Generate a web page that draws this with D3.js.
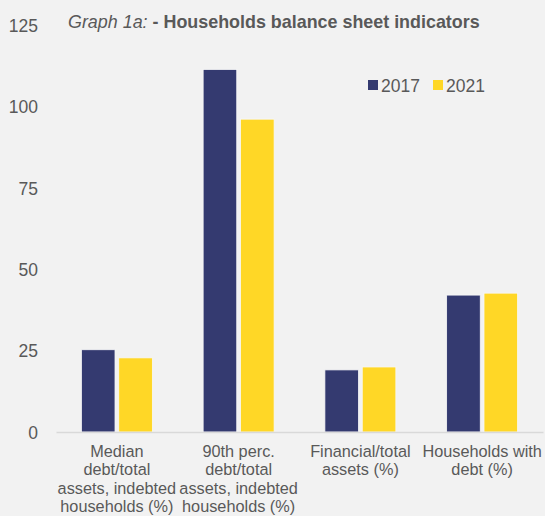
<!DOCTYPE html>
<html>
<head>
<meta charset="utf-8">
<script src="https://cdn.jsdelivr.net/npm/d3@7"></script>
<style>
  html, body { margin: 0; padding: 0; background: #f2f2f2; }
  svg { display: block; }
</style>
</head>
<body>
<svg id="chart" width="545" height="516"></svg>
<script>
// Household balance sheet indicators, 2017 vs 2021
const categories = [
  ["Median", "debt/total", "assets, indebted", "households (%)"],
  ["90th perc.", "debt/total", "assets, indebted", "households (%)"],
  ["Financial/total", "assets (%)"],
  ["Households with", "debt (%)"]
];
const seriesNames = ["2017", "2021"];
const values2017 = [25.3, 111.5, 19.1, 42.1];
const values2021 = [22.8, 96.2, 20.0, 42.7];
const yTicks = [0, 25, 50, 75, 100, 125];
const colors = ["#343a70", "#ffd726"];

const svg = d3.select("#chart");
const textColor = "#595959";
const font = "Arial, 'Liberation Sans', sans-serif";

const y = d3.scaleLinear().domain([0, 125]).range([432, 25.5]);
const x0 = d3.scaleBand()
  .domain(d3.range(categories.length))
  .range([56, 543])
  .paddingInner(0.417)
  .paddingOuter(0.2085);
const x1 = d3.scaleBand()
  .domain(seriesNames)
  .range([0, x0.bandwidth()])
  .paddingInner(0.1);

const seriesValues = [values2017, values2021];

// Y axis labels (no axis line, no ticks)
const yAxis = d3.axisLeft(y).tickValues(yTicks).tickSize(0).tickPadding(0);
const yg = svg.append("g").attr("transform", "translate(38,0)").call(yAxis);
yg.select(".domain").remove();
yg.selectAll("text")
  .attr("font-family", font)
  .attr("font-size", "17.5px")
  .attr("fill", textColor)
  .attr("dy", "0.35em");

// Bars
const groups = svg.append("g").selectAll("g")
  .data(categories.map((c, i) => i))
  .join("g")
  .attr("transform", i => `translate(${x0(i)},0)`);

groups.selectAll("rect")
  .data(i => seriesNames.map((s, k) => ({ s, v: seriesValues[k][i], k })))
  .join("rect")
  .attr("x", d => x1(d.s))
  .attr("width", x1.bandwidth())
  .attr("y", d => y(d.v))
  .attr("height", d => y(0) - y(d.v))
  .attr("fill", d => colors[d.k])
  .attr("stroke", "#f8f8f8")
  .attr("stroke-width", 0.8);

// X axis baseline
const xAxis = d3.axisBottom(x0).tickSize(0).tickFormat("");
const xg = svg.append("g").attr("transform", `translate(0,${y(0)})`).call(xAxis);
xg.select(".domain").attr("stroke", "#d9d9d9").attr("stroke-width", 1.3);

// Category labels (multi-line)
const labels = svg.append("g").selectAll("text")
  .data(categories)
  .join("text")
  .attr("font-family", font)
  .attr("font-size", "16.3px")
  .attr("fill", textColor)
  .attr("text-anchor", "middle")
  .attr("x", (d, i) => x0(i) + x0.bandwidth() / 2)
  .attr("y", 456.5);
labels.selectAll("tspan")
  .data(d => d)
  .join("tspan")
  .attr("x", function () { return d3.select(this.parentNode).attr("x"); })
  .attr("dy", (d, j) => j === 0 ? 0 : 18.5)
  .text(d => d);

// Title
const title = svg.append("text")
  .attr("x", 68)
  .attr("y", 28)
  .attr("font-family", font)
  .attr("font-size", "17.9px")
  .attr("fill", textColor);
title.append("tspan").attr("font-style", "italic").text("Graph 1a: ");
title.append("tspan").attr("font-weight", "bold").text("- Households balance sheet indicators");

// Legend
const legendX = [368, 433];
const legend = svg.append("g").selectAll("g")
  .data(seriesNames)
  .join("g")
  .attr("transform", (d, i) => `translate(${legendX[i]},80)`);
legend.append("rect")
  .attr("width", 10).attr("height", 10)
  .attr("fill", (d, i) => colors[i]);
legend.append("text")
  .attr("x", 13).attr("y", 12)
  .attr("font-family", font)
  .attr("font-size", "17.5px")
  .attr("fill", textColor)
  .text(d => d);
</script>
</body>
</html>
